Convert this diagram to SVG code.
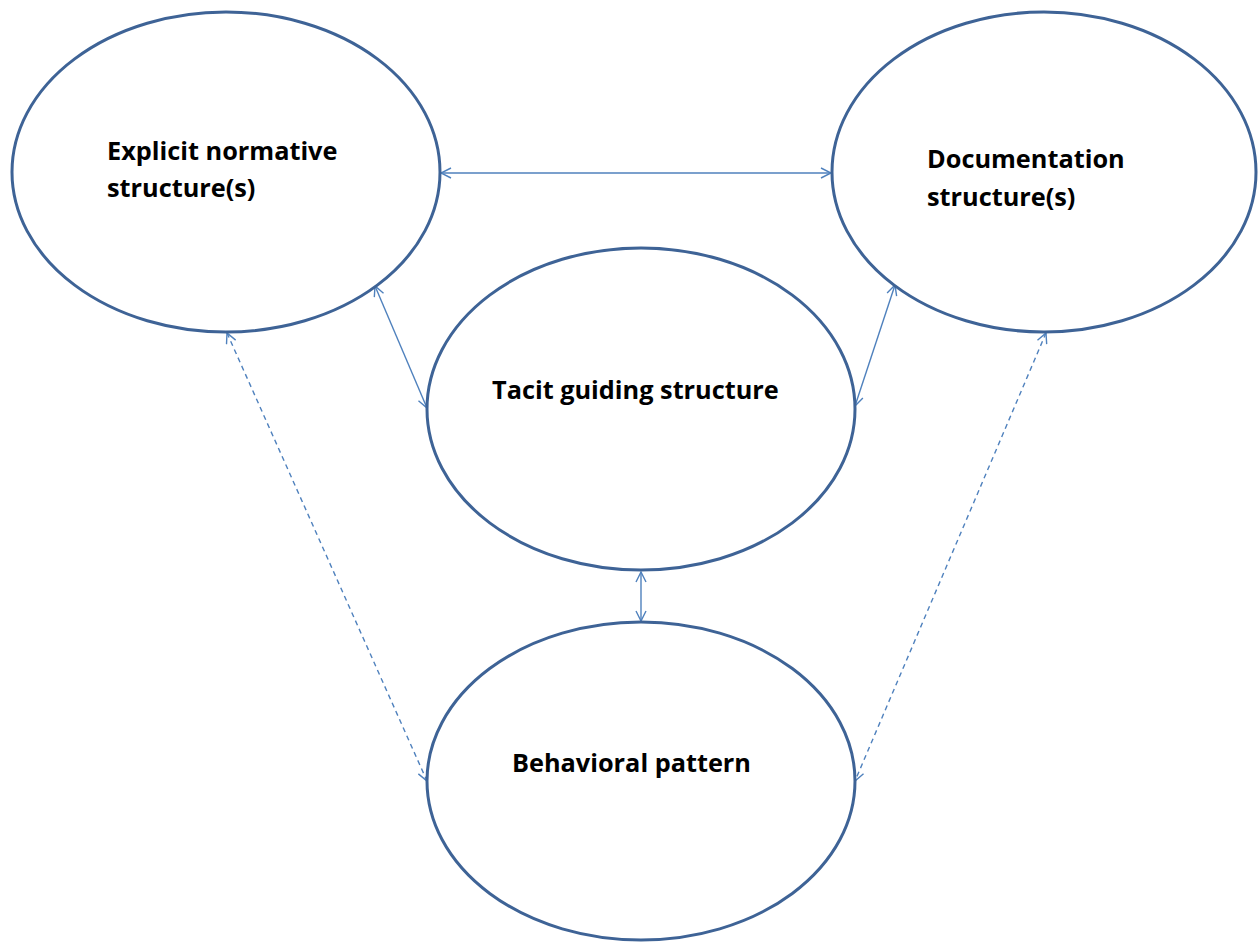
<svg xmlns="http://www.w3.org/2000/svg" width="1258" height="943" viewBox="0 0 1258 943">
  <style>
    .node { fill: #ffffff; stroke: #3e6396; stroke-width: 3; }
    .label { font-family: "Open Sans", "Liberation Sans", sans-serif; font-weight: bold; font-size: 25.3px; fill: #000000; }
    .link { fill: none; stroke: #4f81bd; stroke-width: 1.4; marker-start: url(#head); marker-end: url(#head); }
    .dashed { stroke-dasharray: 5 4; }
  </style>
  <defs>
    <marker id="head" viewBox="0 0 12 12" refX="11" refY="6" markerWidth="12" markerHeight="12" markerUnits="userSpaceOnUse" orient="auto-start-reverse">
      <path d="M1,1 L11,6 L1,11" fill="none" stroke="#4f81bd" stroke-width="1.4"/>
    </marker>
  </defs>

  <rect width="1258" height="943" fill="#ffffff"/>

  <g id="connectors">
    <line class="link" x1="441" y1="173" x2="831" y2="173"/>
    <line class="link" x1="375" y1="286" x2="427" y2="408"/>
    <line class="link" x1="895" y1="285" x2="855" y2="406"/>
    <line class="link" x1="641" y1="572" x2="641" y2="621"/>
    <line class="link dashed" x1="227" y1="333" x2="427" y2="781"/>
    <line class="link dashed" x1="1046" y1="333" x2="855" y2="781"/>
  </g>

  <g id="explicit-normative">
    <ellipse class="node" cx="226" cy="172" rx="214" ry="160"/>
    <text class="label" x="107" y="160">Explicit normative</text>
    <text class="label" x="107" y="197">structure(s)</text>
  </g>

  <g id="documentation">
    <ellipse class="node" cx="1044" cy="172" rx="212" ry="160"/>
    <text class="label" x="927" y="168">Documentation</text>
    <text class="label" x="927" y="206">structure(s)</text>
  </g>

  <g id="tacit-guiding">
    <ellipse class="node" cx="641" cy="409" rx="214" ry="161"/>
    <text class="label" x="492" y="399">Tacit guiding structure</text>
  </g>

  <g id="behavioral-pattern">
    <ellipse class="node" cx="641" cy="781" rx="214" ry="159"/>
    <text class="label" x="512" y="772">Behavioral pattern</text>
  </g>
</svg>
